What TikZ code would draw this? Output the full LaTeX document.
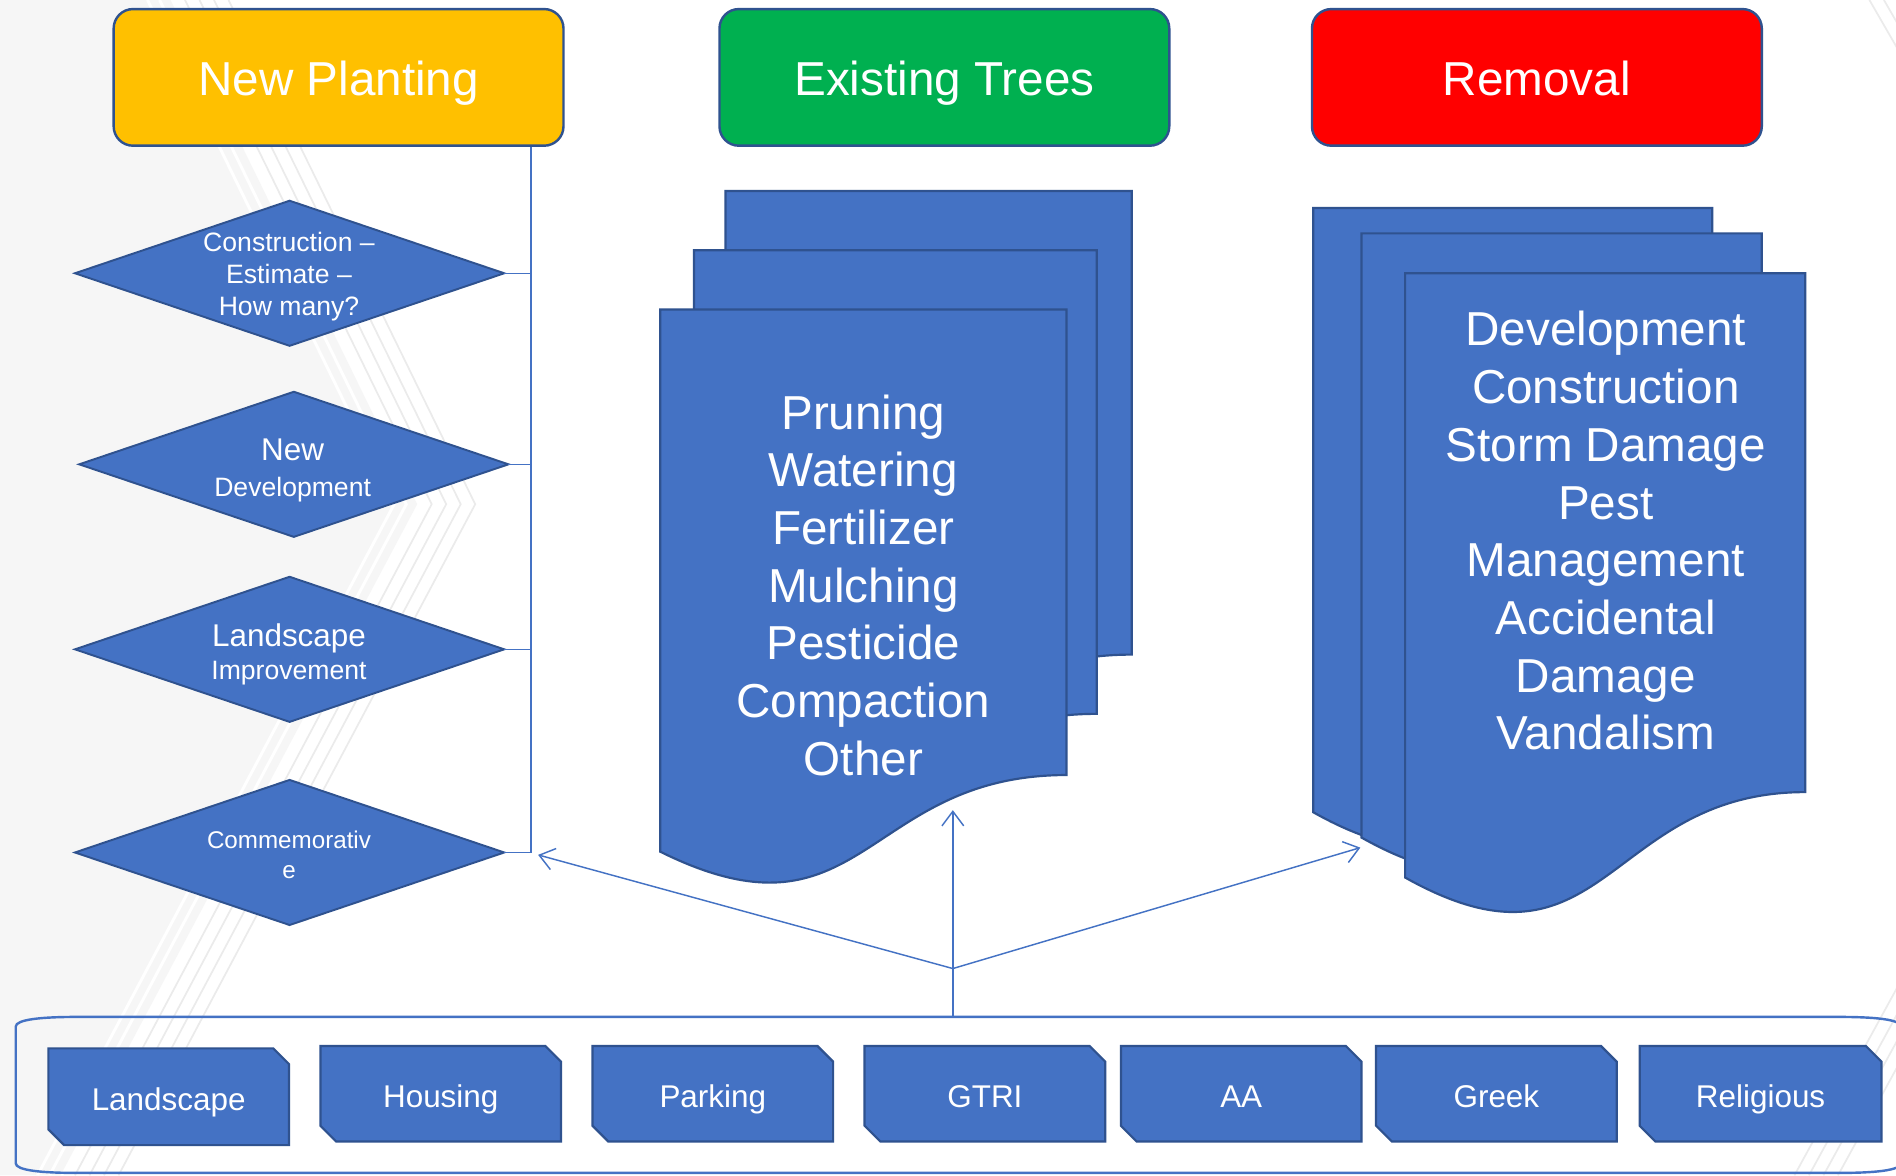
\documentclass[tikz,border=0pt]{standalone}
\usepackage{fontspec}
\setmainfont{Liberation Sans}
\usetikzlibrary{arrows.meta}

\definecolor{accent}{HTML}{4472C4}
\definecolor{edge}{HTML}{2F528F}
\definecolor{amber}{HTML}{FFC000}
\definecolor{leaf}{HTML}{00B050}
\definecolor{alarm}{HTML}{FF0000}
\definecolor{backdrop}{HTML}{F6F6F6}
\definecolor{stripe}{HTML}{EBEBEB}

\tikzset{
  title/.style={draw=edge, line width=1pt, rounded corners=8pt,
    minimum width=186pt, minimum height=56.5pt, inner sep=0pt,
    text height=15pt, text depth=0pt,
    text=white, font=\fontsize{19.7}{23.85}\selectfont},
  page/.style={fill=accent, draw=edge, line width=0.9pt},
  flowtext/.style={text=white, align=center, inner sep=0pt},
  link/.style={draw=accent, line width=0.6pt},
  arrowlink/.style={link, -{Straight Barb[length=6pt,width=9pt]}},
  decisionshape/.style={fill=accent, draw=edge, line width=0.8pt},
  snipshape/.style={fill=accent, draw=edge, line width=0.9pt},
}

% one sheet of a document stack: left x, top y, right x, nominal height
\newcommand{\pagesheet}[4]{%
  \path[page] (#1,#2) -- (#3,#2) -- (#3,{#2+0.802*#4})
    .. controls ({(#1+#3)/2},{#2+0.802*#4}) and ({(#1+#3)/2},{#2+1.1075*#4})
    .. (#1,{#2+0.934*#4}) -- cycle;}

% rectangle with snipped top-right and bottom-left corners, plus its label
\newcommand{\snipbox}[6]{%
  \path[snipshape] (#2,#3) -- ({#4-13},#3) -- (#4,{#3+13}) -- (#4,#5)
    -- ({#2+13},#5) -- (#2,{#5-13}) -- cycle;
  \node[flowtext, font=\fontsize{13}{15}\selectfont, text height=11pt, text depth=0pt]
    (#1) at ({(#2+#4)/2},{(#3+#5)/2}) {#6};}

% decision diamond centred at (cx,cy); its right tip is named <name>tip
\newcommand{\decision}[3]{%
  \path[decisionshape] ({#2-177.5},#3) -- (#2,{#3-60}) -- ({#2+177.5},#3)
    -- (#2,{#3+60}) -- cycle;
  \coordinate (#1tip) at ({#2+177.5},#3);}

\begin{document}
\begin{tikzpicture}[x=0.5pt, y=-0.5pt]
\useasboundingbox (0,0) rectangle (1568,972);
\clip (0,0) rectangle (1568,972);

% backdrop with the grey chevron band on the left
\fill[white] (0,0) rectangle (1568,972);
\fill[backdrop] (0,0) -- (141,0) -- (345,417) -- (50,972) -- (0,972) -- cycle;
\foreach \d in {-9,-19}
  \draw[white, line width=1.2pt] ({141+\d},0) -- ({345+\d},417) -- ({50+\d},972);
\foreach \d in {12,24,36,48}
  \draw[stripe, line width=0.7pt] ({141+\d},0) -- ({345+\d},417) -- ({50+\d},972);
\foreach \d in {0,12,24,36}
  \draw[stripe, line width=0.7pt] ({1484+\d},972) -- ({1571+\d},813);
\foreach \d in {0,12}
  \draw[stripe, line width=0.7pt] ({1546+\d},0) -- ({1576+\d},52);

% group frame along the bottom
\draw[accent, line width=1pt]
  (13,849) .. controls (13,843) and (35,841) .. (63,841) -- (1521,841)
  .. controls (1550,841) and (1572,843) .. (1572,849) -- (1572,962)
  .. controls (1572,968) and (1550,970) .. (1521,970) -- (63,970)
  .. controls (35,970) and (13,968) .. (13,962) -- cycle;
\coordinate (grouptop) at (788,841);

% category headers
\node[title, fill=amber] (np) at (280,64) {New Planting};
\node[title, fill=leaf]  (et) at (781,64) {Existing Trees};
\node[title, fill=alarm] (rm) at (1271,64) {Removal};

% planting decisions
\decision{d1}{239.5}{226}
\decision{d2}{243}{384}
\decision{d3}{239.5}{537}
\decision{d4}{239.5}{705}
\node[flowtext, font=\fontsize{11}{13.25}\selectfont] (d1) at (239,229)
  {Construction –\\Estimate –\\How many?};
\node[flowtext, font=\fontsize{11}{14.8}\selectfont] (d2) at (242,389)
  {{\fontsize{13}{14.8}\selectfont New}\\Development};
\node[flowtext, font=\fontsize{11}{13.8}\selectfont] (d3) at (239,541)
  {{\fontsize{13}{13.8}\selectfont Landscape}\\Improvement};
\node[flowtext, font=\fontsize{10}{12.25}\selectfont] (d4) at (239,707)
  {Commemorativ\\e};

% spine from the New Planting header to the decisions
\coordinate (spinex) at (439,0);
\draw[link] (np.south -| spinex) -- (d4tip -| spinex) -- (d4tip);
\draw[link] (d1tip) -- (d1tip -| spinex);
\draw[link] (d2tip) -- (d2tip -| spinex);
\draw[link] (d3tip) -- (d3tip -| spinex);

% existing-tree care stack
\pagesheet{600}{158}{936}{478}
\pagesheet{574}{207}{907}{478}
\pagesheet{546}{256}{882}{480}
\node[flowtext, font=\fontsize{19.7}{23.85}\selectfont] (care) at (714,484)
  {Pruning\\Watering\\Fertilizer\\Mulching\\Pesticide\\Compaction\\Other};

% removal causes stack
\pagesheet{1086}{172}{1416}{535}
\pagesheet{1126}{193}{1457}{535}
\pagesheet{1162}{226}{1493}{535}
\node[flowtext, font=\fontsize{19.7}{23.85}\selectfont] (causes) at (1328,439)
  {Development\\Construction\\Storm Damage\\Pest\\Management\\Accidental\\Damage\\Vandalism};

% fan-out from the group frame
\coordinate (hub) at (788,801);
\coordinate (plantin) at (445,707);
\coordinate (carein) at (788,670);
\coordinate (removein) at (1125,701);
\draw[link] (grouptop) -- (hub);
\draw[arrowlink] (hub) -- (plantin);
\draw[arrowlink] (hub) -- (carein);
\draw[arrowlink] (hub) -- (removein);

% campus areas
\snipbox{landscape}{40}{867}{239}{947}{Landscape}
\snipbox{housing}{265}{865}{464}{944}{Housing}
\snipbox{parking}{490}{865}{689}{944}{Parking}
\snipbox{gtri}{715}{865}{914}{944}{GTRI}
\snipbox{aa}{927}{865}{1126}{944}{AA}
\snipbox{greek}{1138}{865}{1337}{944}{Greek}
\snipbox{religious}{1356}{865}{1556}{944}{Religious}
\end{tikzpicture}
\end{document}
